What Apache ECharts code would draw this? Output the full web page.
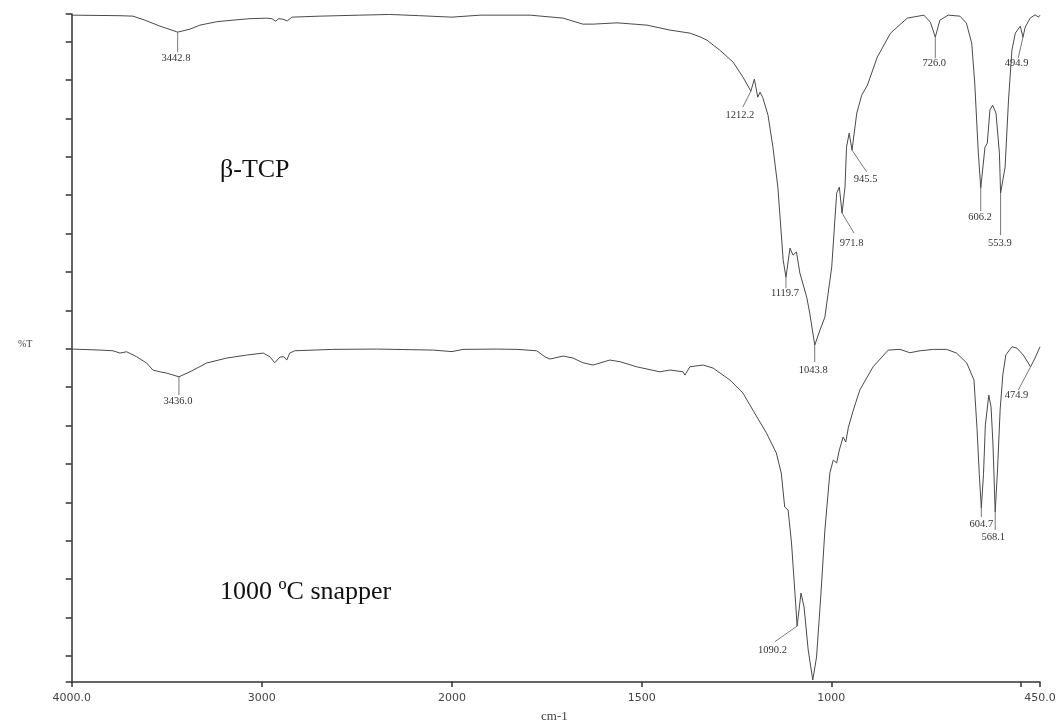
<!DOCTYPE html>
<html>
<head>
<meta charset="utf-8">
<script src="https://cdn.jsdelivr.net/npm/echarts@6/dist/echarts.min.js"></script>
<style>
  html, body { margin: 0; padding: 0; background: #ffffff; }
  #chart { width: 1062px; height: 722px; }
</style>
</head>
<body>
<div id="chart"></div>
<script>
// FTIR spectra: [wavenumber (cm-1), transmittance (arbitrary %T units)]
const tcpSpectrum = [
  [4000, 86.85], [3851, 86.81], [3746, 86.78], [3678, 86.72], [3615, 86.2], [3536, 85.42],
  [3442.8, 84.64], [3378, 85.03], [3326, 85.55], [3236, 86.0], [3152, 86.2], [3063, 86.39],
  [2974, 86.46], [2947, 86.39], [2928, 86.07], [2911, 86.39], [2890, 86.33], [2866, 86.1],
  [2842, 86.59], [2695, 86.72], [2485, 86.85], [2327, 86.94], [2170, 86.78], [2000, 86.59],
  [1926, 86.85], [1794, 86.85], [1707, 86.46], [1655, 85.68], [1628, 85.68], [1565, 85.85],
  [1486, 85.55], [1425, 84.9], [1373, 84.51], [1346, 84.02], [1328, 83.59], [1294, 82.29],
  [1259, 80.73], [1233, 78.78], [1212.2, 76.95], [1203, 78.52], [1194, 76.17], [1188, 76.82],
  [1181, 76.13], [1167, 73.83], [1154, 69.66], [1141, 64.45], [1127, 54.95], [1119.7, 52.73],
  [1109, 56.51], [1101, 55.6], [1092, 56.0], [1083, 53.26], [1065, 50.13], [1057, 48.05],
  [1043.8, 43.88], [1030, 45.83], [1017, 47.53], [999, 54.04], [986, 63.67], [979, 64.45],
  [971.8, 61.07], [964, 64.45], [960, 69.66], [953, 71.48], [945.5, 69.27], [933, 74.09],
  [920, 76.43], [905, 77.73], [879, 81.38], [844, 84.51], [800, 86.46], [756, 86.85],
  [739, 85.94], [726.0, 83.98], [714, 86.2], [692, 86.85], [661, 86.72], [644, 85.81],
  [630, 83.2], [622, 77.99], [613, 69.27], [606.2, 64.32], [595, 69.66], [589, 70.18],
  [582, 74.48], [575, 75.13], [566, 74.09], [557, 68.88], [553.9, 63.67], [542, 67.06],
  [533, 75.78], [524, 82.29], [515, 84.51], [502, 85.42], [494.9, 83.98], [489, 85.29],
  [476, 86.46], [463, 86.9], [454, 86.59], [450, 86.85]
];

const snapperSpectrum = [
  [4000, 43.36], [3851, 43.23], [3783, 43.14], [3746, 42.84], [3711, 43.01], [3658, 42.36],
  [3606, 41.54], [3573, 40.63], [3536, 40.4], [3501, 40.23], [3436.0, 39.75], [3378, 40.4],
  [3291, 41.54], [3185, 42.19], [3080, 42.58], [2993, 42.84], [2958, 42.36], [2932, 41.58],
  [2905, 42.32], [2884, 42.36], [2869, 41.93], [2853, 42.84], [2827, 43.14], [2627, 43.32],
  [2398, 43.36], [2101, 43.23], [2000, 43.03], [1971, 43.32], [1882, 43.36], [1829, 43.32],
  [1777, 43.14], [1755, 42.36], [1742, 42.06], [1707, 42.45], [1681, 42.19], [1655, 41.58],
  [1628, 41.28], [1584, 41.93], [1557, 41.71], [1513, 41.05], [1452, 40.4], [1425, 40.63],
  [1391, 40.4], [1386, 39.97], [1373, 41.05], [1338, 41.28], [1312, 40.89], [1267, 39.32],
  [1233, 37.63], [1207, 35.42], [1171, 32.42], [1145, 29.82], [1132, 27.21], [1123, 22.79],
  [1114, 22.4], [1105, 18.1], [1096, 11.59], [1090.2, 7.29], [1080, 11.59], [1072, 9.77],
  [1061, 4.17], [1049, 0.26], [1039, 3.26], [1028, 11.07], [1017, 19.79], [1004, 27.21],
  [995, 28.91], [986, 28.52], [979, 30.21], [969, 31.9], [962, 31.25], [955, 33.2],
  [942, 35.42], [925, 38.02], [890, 41.05], [850, 43.23], [819, 43.32], [793, 42.88],
  [766, 43.14], [731, 43.32], [696, 43.32], [670, 42.84], [643, 41.54], [624, 39.32],
  [616, 33.0], [610, 27.0], [604.7, 22.66], [599, 27.0], [594, 33.5], [585, 37.37],
  [579, 35.8], [574, 31.0], [568.1, 22.14], [562, 27.6], [555, 35.5], [548, 40.0],
  [540, 42.6], [524, 43.66], [511, 43.49], [494, 42.58], [474.9, 41.05], [463, 42.19],
  [450, 43.66]
];

// Labelled band positions (cm-1)
const tcpPeaks = [3442.8, 1212.2, 1119.7, 1043.8, 971.8, 945.5, 726.0, 606.2, 553.9, 494.9];
const snapperPeaks = [3436.0, 1090.2, 604.7, 568.1, 474.9];

// Axis ticks: the range above 2000 cm-1 is drawn at half the scale of the range below
const highRangeTicks = [4000, 3000, 2000];
const lowRangeTicks = [1500, 1000, 500, 450];
const lowRangeLabels = [1500, 1000, 450];
const transmittanceTicks = [0, 3.4, 8.4, 13.4, 18.4, 23.4, 28.4, 33.4, 38.4, 43.4, 48.4,
  53.4, 58.4, 63.4, 68.4, 73.4, 78.4, 83.4, 87];

// Leader line end and label centre, in pixels relative to the band minimum
const leaderLayout = {
  '3442.8': { line: [0, 20], text: [-1.6, 26.5] },
  '1212.2': { line: [-8, 16], text: [-11, 24] },
  '1119.7': { line: [0, 11], text: [-1, 16.5] },
  '1043.8': { line: [0, 17], text: [-1.5, 25] },
  '971.8': { line: [12, 20], text: [9.6, 30] },
  '945.5': { line: [14.6, 21.7], text: [13.6, 29] },
  '726.0': { line: [0, 21], text: [-1, 26] },
  '606.2': { line: [0, 23], text: [-0.8, 29] },
  '553.9': { line: [0, 42], text: [-0.7, 50] },
  '494.9': { line: [-4.8, 21], text: [-6.4, 26] },
  '3436.0': { line: [0, 18.3], text: [-1, 24] },
  '1090.2': { line: [-22.3, 15.7], text: [-24.6, 24.7] },
  '604.7': { line: [0, 9], text: [0, 16] },
  '568.1': { line: [0, 18], text: [-2, 25] },
  '474.9': { line: [-12.3, 23.3], text: [-14, 28.3] }
};

const INK = '#4a4a4a';
const AXIS = { color: '#333', width: 1.5 };
const SPLIT = 2000;

function peakPoints(spectrum, peaks) {
  return peaks.map(w => spectrum.find(d => d[0] === w));
}

function renderPeak(params, api) {
  const wn = api.value(0);
  const p = api.coord([wn, api.value(1)]);
  const key = wn.toFixed(1);
  const lay = leaderLayout[key];
  return {
    type: 'group',
    children: [
      {
        type: 'line',
        shape: { x1: p[0], y1: p[1], x2: p[0] + lay.line[0], y2: p[1] + lay.line[1] },
        style: { stroke: '#555', lineWidth: 0.8 }
      },
      {
        type: 'text',
        x: p[0] + lay.text[0],
        y: p[1] + lay.text[1],
        style: {
          text: key,
          font: '10.5px "Liberation Serif", serif',
          fill: '#333',
          align: 'center',
          verticalAlign: 'middle'
        }
      }
    ]
  };
}

function lineSeries(name, data, idx) {
  return {
    name: name,
    type: 'line',
    xAxisIndex: idx,
    yAxisIndex: idx,
    data: data,
    showSymbol: false,
    symbol: 'none',
    lineStyle: { color: INK, width: 1 },
    z: 3
  };
}

function peakSeries(data, idx) {
  return {
    type: 'custom',
    xAxisIndex: idx,
    yAxisIndex: idx,
    data: data,
    encode: { x: 0, y: 1 },
    renderItem: renderPeak,
    clip: false,
    z: 4
  };
}

const allPeaks = peakPoints(tcpSpectrum, tcpPeaks).concat(peakPoints(snapperSpectrum, snapperPeaks));

const axisLabelStyle = { fontFamily: '"DejaVu Sans", sans-serif', fontSize: 11, color: '#444', margin: 11 };

const option = {
  animation: false,
  backgroundColor: '#ffffff',
  grid: [
    { left: 71.7, top: 14, width: 380.3, height: 668 },
    { left: 452, top: 14, width: 588, height: 668 }
  ],
  xAxis: [
    {
      gridIndex: 0, type: 'value', inverse: true, min: 2000, max: 4000, interval: 1000,
      axisLine: { show: true, onZero: false, lineStyle: AXIS },
      axisTick: { show: true, length: 5, customValues: highRangeTicks, lineStyle: AXIS },
      axisLabel: Object.assign({
        customValues: highRangeTicks,
        formatter: v => (v === 4000 ? '4000.0' : String(v))
      }, axisLabelStyle),
      splitLine: { show: false }
    },
    {
      gridIndex: 1, type: 'value', inverse: true, min: 450, max: 2000,
      axisLine: { show: true, onZero: false, lineStyle: AXIS },
      axisTick: { show: true, length: 5, customValues: lowRangeTicks, lineStyle: AXIS },
      axisLabel: Object.assign({
        customValues: lowRangeLabels,
        formatter: v => (v === 450 ? '450.0' : String(v))
      }, axisLabelStyle),
      splitLine: { show: false }
    }
  ],
  yAxis: [
    {
      gridIndex: 0, type: 'value', min: 0, max: 87,
      axisLine: { show: true, onZero: false, lineStyle: AXIS },
      axisTick: { show: true, length: 6, customValues: transmittanceTicks, lineStyle: AXIS },
      axisLabel: { show: false },
      splitLine: { show: false }
    },
    { gridIndex: 1, type: 'value', min: 0, max: 87, show: false, splitLine: { show: false } }
  ],
  series: [
    lineSeries('β-TCP', tcpSpectrum.filter(d => d[0] >= SPLIT), 0),
    lineSeries('β-TCP', tcpSpectrum.filter(d => d[0] <= SPLIT), 1),
    lineSeries('1000 ºC snapper', snapperSpectrum.filter(d => d[0] >= SPLIT), 0),
    lineSeries('1000 ºC snapper', snapperSpectrum.filter(d => d[0] <= SPLIT), 1),
    peakSeries(allPeaks.filter(d => d[0] >= SPLIT), 0),
    peakSeries(allPeaks.filter(d => d[0] < SPLIT), 1)
  ],
  graphic: [
    { type: 'text', left: 18, top: 339, style: { text: '%T', font: '10px "Liberation Serif", serif', fill: '#444' } },
    { type: 'text', left: 541, top: 710, style: { text: 'cm-1', font: '13px "Liberation Serif", serif', fill: '#444' } },
    { type: 'text', left: 220, top: 157, style: { text: 'β-TCP', font: '26px "Liberation Serif", serif', fill: '#111' } },
    { type: 'text', left: 220, top: 579, style: { text: '1000 ºC snapper', font: '26px "Liberation Serif", serif', fill: '#111' } }
  ]
};

const chart = echarts.init(document.getElementById('chart'), null, { renderer: 'canvas' });
chart.setOption(option);
</script>
</body>
</html>
